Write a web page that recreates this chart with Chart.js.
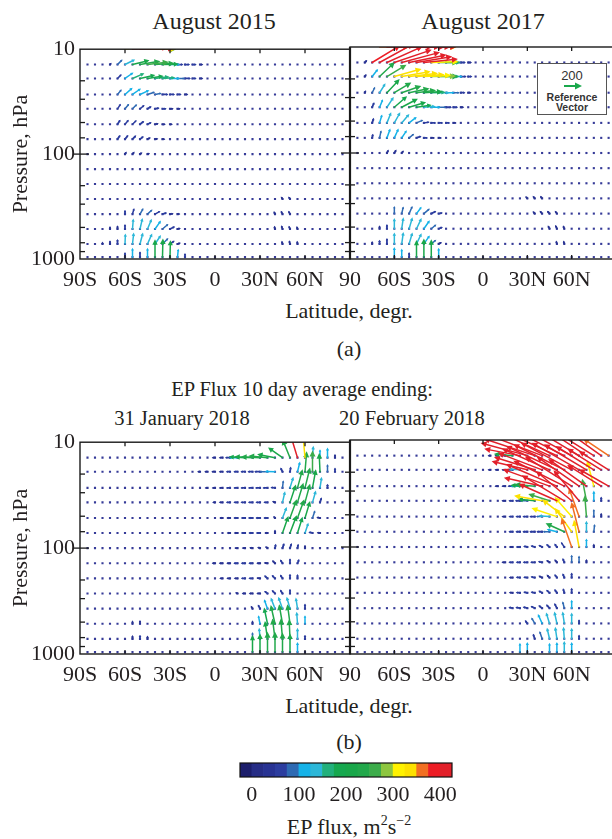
<!DOCTYPE html>
<html>
<head>
<meta charset="utf-8">
<script src="https://cdn.jsdelivr.net/npm/chart.js@4.4.1/dist/chart.umd.min.js"></script>
<style>
body { margin: 0; width: 612px; height: 839px; overflow: hidden; background: #fff; position: relative;
  font-family: "Liberation Serif", "Times New Roman", serif; color: #231f20; }
canvas { position: absolute; }
.t { position: absolute; white-space: nowrap; transform: translate(-50%, -50%); font-size: 22px; line-height: 1; }
.ref { position: absolute; left: 537px; top: 63px; width: 68px; height: 50px; border: 1.5px solid #555; background: #fff;
  font-family: "Liberation Sans", Arial, sans-serif; text-align: center; color: #333; }
.ref .n { position: absolute; left: 0; right: 0; top: 4px; font-size: 13px; }
.ref svg { position: absolute; left: 25px; top: 18px; }
.ref .r { position: absolute; left: 0; right: 0; top: 28px; font-size: 10.5px; font-weight: bold; line-height: 10px; }
</style>
</head>
<body>
<div class="t" style="left:214px;top:21px;font-size:24px">August 2015</div>
<div class="t" style="left:483px;top:21px;font-size:24px">August 2017</div>
<div class="t" style="left:349px;top:311px">Latitude, degr.</div>
<div class="t" style="left:349px;top:349px">(a)</div>
<div class="t" style="left:302px;top:389px;font-size:20.5px">EP Flux 10 day average ending:</div>
<div class="t" style="left:182px;top:418px;font-size:20.5px">31 January 2018</div>
<div class="t" style="left:412px;top:418px;font-size:20.5px">20 February 2018</div>
<div class="t" style="left:349px;top:706px">Latitude, degr.</div>
<div class="t" style="left:349px;top:742px">(b)</div>
<div class="t" style="left:349px;top:826px">EP flux, m<sup style="font-size:14px">2</sup>s<sup style="font-size:14px">−2</sup></div>

<canvas id="c1" width="372" height="268" style="left:0;top:31px"></canvas>
<canvas id="c2" width="290" height="268" style="left:330px;top:31px"></canvas>
<canvas id="c3" width="372" height="270" style="left:0;top:424px"></canvas>
<canvas id="c4" width="290" height="270" style="left:330px;top:424px"></canvas>
<canvas id="cb" width="252" height="54" style="left:220px;top:753px"></canvas>

<div class="ref">
  <div class="n">200</div>
  <svg width="20" height="8"><line x1="1" y1="4" x2="13" y2="4" stroke="#1aa84c" stroke-width="2"/><polygon points="19,4 12,0.5 12,7.5" fill="#1aa84c"/></svg>
  <div class="r">Reference<br>Vector</div>
</div>

<script>
// grid of the EP flux field
const LATS = [-85, -80, -75, -70, -65, -60, -55, -50, -45, -40, -35, -30, -25, -20, -15, -10, -5, 0,
  5, 10, 15, 20, 25, 30, 35, 40, 45, 50, 55, 60, 65, 70, 75, 80, 85];
const LEVELS = [14, 19, 27, 37, 52, 72, 100, 139, 193, 268, 373, 518, 720, 960];

const X_TICKS = [-90, -60, -30, 0, 30, 60, 90];
const X_LABELS = ["90S", "60S", "30S", "0", "30N", "60N", "90"];
const Y_TICKS = [10, 100, 1000];
const P_MARKS = [20, 30, 50, 70, 100, 200, 300, 500, 700, 850];
const LAT_MARKS = [-60, -30, 0, 30, 60];

// colour scale (lower edge of each box, m2/s2)
const CB_LOW = [-25, 0, 25, 50, 75, 100, 125, 150, 175, 200, 225, 250, 275, 300, 325, 350, 375, 400];
const CB_COLORS = ["#1c1e6b", "#262d86", "#283393", "#2c3d9f", "#2e6ab3", "#15b2e8", "#2cb7d8", "#22b07c",
  "#16a84f", "#19a74a", "#22a84b", "#3cac4a", "#8dc63f", "#fff200", "#fde100", "#f26f22", "#ed1c24", "#e2202a"];
const CB_TICKS = [0, 100, 200, 300, 400];

// vectors: [lat, pressure, horizontal, vertical]
const aug2015 = [
  [-60,10,300,40],[-55,10,420,20],[-50,10,400,10],[-45,10,330,0],[-40,10,250,0],
  [-70,14,20,20],[-65,14,60,60],[-60,14,120,60],[-55,14,200,50],[-50,14,240,40],[-45,14,250,30],[-40,14,230,15],
  [-35,14,190,5],[-30,14,120,0],[-25,14,70,0],[-20,14,60,0],[-15,14,50,0],[-10,14,40,0],
  [-65,19,50,50],[-60,19,100,70],[-55,19,140,60],[-50,19,180,40],[-45,19,190,30],[-40,19,170,20],[-35,19,150,10],
  [-30,19,120,0],[-25,19,90,0],[-20,19,70,0],[-15,19,50,0],[-10,19,40,0],
  [-65,27,50,60],[-60,27,90,80],[-55,27,100,70],[-50,27,110,50],[-45,27,90,30],[-40,27,80,15],[-35,27,70,0],
  [-30,27,60,0],[-25,27,50,0],[-20,27,40,0],
  [-65,37,40,60],[-60,37,50,60],[-55,37,55,55],[-50,37,55,45],[-45,37,50,30],[-40,37,55,10],[-35,37,50,0],
  [-30,37,45,0],[-25,37,40,0],
  [-65,52,35,55],[-60,52,45,55],[-55,52,50,50],[-50,52,50,40],[-45,52,50,25],[-40,52,45,10],[-35,52,40,0],[-30,52,35,0],
  [-65,72,35,50],[-60,72,40,50],[-55,72,45,45],[-50,72,45,35],[-45,72,40,20],[-40,72,40,5],[-35,72,35,0],
  [-60,100,20,30],[-55,100,25,30],[-50,100,30,20],[-45,100,30,10],
  [-60,373,0,50],[-55,373,20,70],[-50,373,40,70],[-45,373,60,55],[-40,373,65,35],[-35,373,55,15],[-30,373,45,5],[-25,373,35,0],
  [-70,518,0,35],[-65,518,0,45],[-60,518,0,60],[-55,518,10,125],[-50,518,30,130],[-45,518,50,120],[-40,518,70,100],
  [-35,518,70,60],[-30,518,60,30],[-25,518,40,10],
  [-75,720,0,30],[-70,720,0,45],[-65,720,0,60],[-60,720,5,125],[-55,720,15,135],[-50,720,35,135],[-45,720,55,125],
  [-40,720,70,105],[-35,720,70,70],[-30,720,55,40],[-25,720,40,15],
  [-60,960,0,60],[-55,960,0,110],[-50,960,0,70],[-45,960,0,110],[-40,960,0,210],[-35,960,5,220],[-30,960,5,200],
  [-25,960,10,100],[-20,960,0,50],
  [45,268,-20,30],[50,268,-20,30],[40,373,-15,35],[45,373,-20,40],[50,373,-20,40],
  [40,518,-10,40],[45,518,-15,45],[50,518,-15,40],[55,518,-10,35],[45,720,-10,40],[50,720,-10,45],[55,720,-5,40]
];

const aug2017 = [
  [-70,10,350,0],[-65,10,420,0],[-60,10,450,0],[-55,10,450,0],[-50,10,420,0],[-45,10,400,0],[-40,10,380,0],
  [-35,10,300,0],[-30,10,200,0],
  [-80,14,30,30],[-75,14,330,200],[-70,14,400,220],[-65,14,420,190],[-60,14,440,150],[-55,14,450,120],[-50,14,440,90],
  [-45,14,420,70],[-40,14,400,40],[-35,14,320,10],[-30,14,230,0],[-25,14,170,0],[-20,14,90,0],[-15,14,60,0],[-10,14,45,0],
  [-80,19,20,30],[-75,19,70,90],[-70,19,180,170],[-65,19,230,140],[-60,19,320,90],[-55,19,340,60],[-50,19,340,40],
  [-45,19,330,25],[-40,19,320,15],[-35,19,290,5],[-30,19,230,0],[-25,19,160,0],[-20,19,110,0],[-15,19,70,0],[-10,19,50,0],
  [-80,27,15,30],[-75,27,35,70],[-70,27,70,110],[-65,27,150,160],[-60,27,200,120],[-55,27,230,80],[-50,27,240,50],
  [-45,27,230,30],[-40,27,220,15],[-35,27,170,5],[-30,27,130,0],[-25,27,100,0],[-20,27,75,0],[-15,27,55,0],[-10,27,40,0],
  [-75,37,25,60],[-70,37,40,95],[-65,37,80,120],[-60,37,150,130],[-55,37,190,100],[-50,37,200,60],[-45,37,180,25],
  [-40,37,140,10],[-35,37,110,0],[-30,37,90,0],[-25,37,70,0],[-20,37,55,0],[-15,37,40,0],
  [-75,52,20,60],[-70,52,30,100],[-65,52,50,125],[-60,52,70,125],[-55,52,90,105],[-50,52,90,70],[-45,52,80,35],
  [-40,52,70,10],[-35,52,60,0],[-30,52,55,0],[-25,52,50,0],[-20,52,40,0],
  [-75,72,10,50],[-70,72,20,90],[-65,72,40,110],[-60,72,50,110],[-55,72,60,90],[-50,72,60,50],[-45,72,60,20],
  [-40,72,50,0],[-35,72,45,0],[-30,72,40,0],
  [-65,100,20,40],[-60,100,25,40],[-55,100,25,30],
  [-60,373,0,90],[-55,373,20,85],[-50,373,40,90],[-45,373,60,80],[-40,373,70,60],[-35,373,60,30],[-30,373,50,10],
  [-70,518,0,40],[-65,518,0,55],[-60,518,0,125],[-55,518,20,135],[-50,518,40,135],[-45,518,60,125],[-40,518,70,100],
  [-35,518,60,50],[-30,518,50,20],
  [-75,720,0,35],[-70,720,0,50],[-65,720,0,70],[-60,720,0,135],[-55,720,20,140],[-50,720,40,135],[-45,720,60,125],
  [-40,720,70,100],[-35,720,60,50],[-30,720,40,20],
  [-60,960,0,120],[-55,960,0,100],[-50,960,0,60],[-45,960,0,200],[-40,960,0,220],[-35,960,0,210],[-30,960,0,110],
  [30,268,-25,25],[35,268,-25,30],[40,268,-25,30],[35,373,-25,30],[40,373,-30,35],[45,373,-30,35],[50,373,-25,35],
  [45,518,-20,40],[50,518,-20,45],[55,518,-15,40],[50,720,-10,40],[55,720,-10,40]
];

const jan2018 = [
  [0,14,-40,0],[5,14,-45,0],[10,14,-60,0],[15,14,-100,0],[20,14,-190,10],[25,14,-215,10],[30,14,-225,10],
  [35,14,-225,20],[40,14,-210,40],[45,14,-170,120],[50,14,-90,220],[55,14,-120,390],[60,14,-30,340],[65,14,10,140],
  [70,14,0,100],[75,14,0,120],[80,14,0,45],
  [-10,19,-35,0],[-5,19,-40,0],[0,19,-45,0],[5,19,-45,0],[10,19,-50,0],[15,19,-50,0],[20,19,-55,0],[25,19,-60,0],
  [30,19,-70,0],[35,19,-95,0],[40,19,-120,5],[45,19,-25,50],[50,19,10,60],[55,19,30,120],[60,19,20,240],
  [65,19,0,250],[70,19,-10,220],[75,19,0,90],[80,19,0,50],
  [-5,27,-35,0],[0,27,-40,0],[5,27,-45,0],[10,27,-50,0],[15,27,-50,0],[20,27,-55,0],[25,27,-55,0],[30,27,-60,0],
  [35,27,-60,0],[40,27,-55,5],[45,27,10,90],[50,27,40,130],[55,27,60,220],[60,27,60,240],[65,27,40,220],
  [70,27,20,130],[75,27,0,50],
  [0,37,-35,0],[5,37,-45,0],[10,37,-50,0],[15,37,-50,0],[20,37,-55,0],[25,37,-55,0],[30,37,-55,0],[35,37,-50,0],
  [40,37,-35,15],[45,37,30,130],[50,37,70,210],[55,37,70,230],[60,37,60,220],[65,37,40,140],[70,37,20,60],
  [5,52,-40,0],[10,52,-45,0],[15,52,-50,0],[20,52,-50,0],[25,52,-55,0],[30,52,-55,0],[35,52,-50,0],[40,52,-20,25],
  [45,52,50,130],[50,52,80,220],[55,52,80,220],[60,52,60,200],[65,52,30,90],[70,52,-45,10],
  [10,72,-40,0],[15,72,-45,0],[20,72,-50,0],[25,72,-50,0],[30,72,-50,0],[35,72,-40,0],[40,72,0,40],[45,72,70,200],
  [50,72,80,210],[55,72,60,190],[60,72,40,120],[65,72,-50,10],[70,72,-40,5],
  [15,100,-40,0],[20,100,-40,0],[25,100,-40,5],[30,100,-35,10],[35,100,-30,20],[40,100,10,50],[45,100,20,60],
  [50,100,20,60],[55,100,10,50],[60,100,0,40],
  [0,139,-40,0],[5,139,-45,0],[10,139,-45,0],[15,139,-50,0],[20,139,-50,0],[25,139,-50,0],[30,139,-45,0],
  [35,139,-45,5],[40,139,-35,35],[45,139,-30,45],[50,139,0,60],[55,139,20,50],
  [5,193,-40,0],[10,193,-45,0],[15,193,-45,0],[20,193,-50,0],[25,193,-50,0],[30,193,-45,5],[35,193,-40,35],
  [40,193,-40,40],[45,193,-30,45],[50,193,0,55],[55,193,0,50],
  [15,268,-30,10],[20,268,-40,0],[25,268,-45,0],[30,268,-45,0],[35,268,-40,30],[40,268,-40,40],[45,268,-30,45],[50,268,0,55],
  [25,373,-20,35],[30,373,-25,50],[35,373,-40,110],[40,373,-50,130],[45,373,-50,140],[50,373,-40,140],[55,373,-20,130],[60,373,0,60],
  [25,518,0,40],[30,518,-20,100],[35,518,-40,190],[40,518,-50,220],[45,518,-40,230],[50,518,-30,230],[55,518,-10,140],[60,518,0,100],
  [25,720,0,80],[30,720,-10,130],[35,720,-30,210],[40,720,-30,240],[45,720,-20,240],[50,720,-10,230],[55,720,0,130],[60,720,0,50],
  [25,960,0,200],[30,960,0,220],[35,960,0,240],[40,960,0,240],[45,960,0,230],[50,960,0,220],[55,960,0,120],
  [-55,518,0,40],[-50,518,0,45],[-55,720,0,45],[-50,720,0,50],[-45,720,0,40]
];

const feb2018 = [
  [5,14,-35,0],[10,14,-40,0],[15,14,-60,0],[20,14,-220,20],[25,14,-420,80],[30,14,-550,150],[35,14,-600,200],
  [40,14,-650,250],[45,14,-650,300],[50,14,-650,300],[55,14,-600,300],[60,14,-550,300],[65,14,-500,300],
  [70,14,-450,300],[75,14,-400,250],[80,14,-350,250],[85,14,-300,200],
  [5,19,-35,0],[10,19,-40,0],[15,19,-45,0],[20,19,-70,0],[25,19,-130,10],[30,19,-420,100],[35,19,-480,150],
  [40,19,-520,200],[45,19,-560,250],[50,19,-600,280],[55,19,-600,300],[60,19,-600,320],[65,19,-560,320],
  [70,19,-500,300],[75,19,-450,280],[80,19,-400,250],[85,19,-350,220],
  [10,27,-40,0],[15,27,-45,0],[20,27,-60,0],[25,27,-110,0],[30,27,-200,10],[35,27,-240,20],[40,27,-450,100],
  [45,27,-550,200],[50,27,-600,260],[55,27,-600,300],[60,27,-550,350],[65,27,-500,350],[70,27,-450,320],
  [75,27,-80,300],[80,27,-400,250],[85,27,-350,200],
  [15,37,-45,0],[20,37,-50,0],[25,37,-60,0],[30,37,-90,0],[35,37,-200,20],[40,37,-330,60],[45,37,-250,80],
  [50,37,-450,200],[55,37,-500,300],[60,37,-420,350],[65,37,-300,360],[70,37,-50,260],[75,37,0,120],[80,37,0,50],
  [15,52,-45,0],[20,52,-50,0],[25,52,-55,0],[30,52,-60,0],[35,52,-65,0],[40,52,-75,0],[45,52,-130,10],
  [50,52,-300,100],[55,52,-260,200],[60,52,-200,230],[65,52,-120,340],[70,52,-20,250],[75,52,0,90],[80,52,0,45],
  [20,72,-50,0],[25,72,-55,0],[30,72,-60,0],[35,72,-65,0],[40,72,-70,0],[45,72,-80,0],[50,72,-120,30],
  [55,72,-220,100],[60,72,-200,280],[65,72,-90,350],[70,72,0,130],[75,72,10,90],
  [20,100,-45,0],[25,100,-50,0],[30,100,-50,10],[35,100,-50,15],[40,100,-45,25],[45,100,-40,35],[50,100,-30,40],
  [55,100,-40,60],[60,100,-120,340],[65,100,-60,320],[70,100,0,100],[75,100,0,40],
  [15,139,-45,0],[20,139,-50,0],[25,139,-50,0],[30,139,-55,0],[35,139,-55,0],[40,139,-50,10],[45,139,-40,25],
  [50,139,-30,35],[55,139,-20,50],[60,139,0,90],[65,139,0,80],[70,139,0,40],
  [20,193,-45,0],[25,193,-50,5],[30,193,-50,5],[35,193,-50,10],[40,193,-45,20],[45,193,-35,35],[50,193,-30,40],
  [55,193,-20,50],[60,193,0,60],
  [20,268,-45,5],[25,268,-50,5],[30,268,-50,10],[35,268,-50,10],[40,268,-45,25],[45,268,-40,35],[50,268,-30,45],
  [55,268,-15,55],[60,268,0,60],
  [20,373,-50,10],[25,373,-55,10],[30,373,-55,15],[35,373,-50,25],[40,373,-45,35],[45,373,-40,45],[50,373,-30,60],
  [55,373,-20,80],[60,373,0,100],
  [30,518,-30,40],[35,518,-40,70],[40,518,-50,110],[45,518,-40,130],[50,518,-30,140],[55,518,-20,140],[60,518,0,130],[65,518,0,50],
  [35,720,-20,60],[40,720,-30,90],[45,720,-30,130],[50,720,-20,140],[55,720,-10,140],[60,720,0,130],[65,720,0,50],
  [25,960,0,110],[30,960,0,120],[45,960,0,110],[50,960,0,120],[55,960,0,130],[60,960,0,120]
];

const SERIF = '"Liberation Serif", "Times New Roman", serif';
const INK = "#231f20";
const DOT = "#363b98";
const LEN = 0.085; // pixels per m2/s2

function colorFor(m) {
  let c = CB_COLORS[0];
  CB_LOW.forEach((lo, i) => { if (m >= lo) c = CB_COLORS[i]; });
  return c;
}

function drawArrow(ctx, x0, y0, u, v, color) {
  const dx = u * LEN, dy = -v * LEN;
  const len = Math.hypot(dx, dy);
  if (len < 0.5) return;
  const ux = dx / len, uy = dy / len;
  const x1 = x0 + dx, y1 = y0 + dy;
  const h = Math.min(6, Math.max(2.4, len * 0.3));
  const w = h * 0.5;
  ctx.strokeStyle = color;
  ctx.fillStyle = color;
  ctx.lineCap = "round";
  ctx.lineWidth = len < 6 ? 1.8 : 1.5;
  ctx.beginPath();
  ctx.moveTo(x0, y0);
  ctx.lineTo(x1 - ux * h * 0.7, y1 - uy * h * 0.7);
  ctx.stroke();
  ctx.beginPath();
  ctx.moveTo(x1, y1);
  ctx.lineTo(x1 - ux * h - uy * w, y1 - uy * h + ux * w);
  ctx.lineTo(x1 - ux * h + uy * w, y1 - uy * h - ux * w);
  ctx.closePath();
  ctx.fill();
}

// draws the flux vectors at the positions chart.js gave the points
const quiver = {
  id: "quiver",
  afterDatasetsDraw(chart) {
    const ds = chart.data.datasets[1];
    const meta = chart.getDatasetMeta(1);
    const { ctx, chartArea: a } = chart;
    ctx.save();
    ctx.beginPath();
    ctx.rect(a.left, a.top, a.right - a.left, a.bottom - a.top);
    ctx.clip();
    const order = ds.data.map((d, i) => i).sort((i, j) => ds.data[i].m - ds.data[j].m);
    for (const i of order) {
      const pt = meta.data[i], d = ds.data[i];
      drawArrow(ctx, pt.x, pt.y, d.u, d.v, colorFor(d.m));
    }
    ctx.restore();
  }
};

// box round the panel with tick marks
const frame = {
  id: "frame",
  afterDraw(chart, args, o) {
    const { ctx, chartArea: a, scales: { x, y } } = chart;
    ctx.save();
    ctx.strokeStyle = "#1a1a1a";
    ctx.lineWidth = 1.4;
    ctx.strokeRect(a.left, a.top, a.right - a.left, a.bottom - a.top);
    if (o.divider) {
      ctx.lineWidth = 2.2;
      ctx.beginPath(); ctx.moveTo(a.left, a.top); ctx.lineTo(a.left, a.bottom); ctx.stroke();
    }
    ctx.lineWidth = 1.3;
    P_MARKS.forEach(p => {
      const py = y.getPixelForValue(p);
      const big = p === 100;
      const out = o.divider ? (big ? 9 : 5) : (big ? 6 : 0);
      const inn = big ? 9 : 5;
      ctx.beginPath(); ctx.moveTo(a.left - out, py); ctx.lineTo(a.left + inn, py); ctx.stroke();
    });
    LAT_MARKS.forEach(lat => {
      const px = x.getPixelForValue(lat);
      ctx.beginPath(); ctx.moveTo(px, a.top); ctx.lineTo(px, a.top + 4); ctx.stroke();
      ctx.beginPath(); ctx.moveTo(px, a.bottom); ctx.lineTo(px, a.bottom - 4); ctx.stroke();
    });
    ctx.restore();
  }
};

function fluxChart(id, vectors, left) {
  const grid = [];
  LEVELS.forEach(p => LATS.forEach(lat => grid.push({ x: lat, y: p })));
  const vec = vectors.map(([lat, p, u, v]) => ({ x: lat, y: p, u: u, v: v, m: Math.hypot(u, v) }));
  const xt = left ? X_TICKS : X_TICKS.slice(1, -1);
  const font = { family: SERIF, size: 22 };
  return new Chart(document.getElementById(id), {
    type: "scatter",
    data: {
      datasets: [
        { data: grid, pointStyle: "rect", pointRadius: 1.5, backgroundColor: DOT, borderWidth: 0 },
        { data: vec, pointRadius: 0 }
      ]
    },
    options: {
      responsive: false, animation: false, events: [], devicePixelRatio: 1,
      layout: { padding: left ? { top: 16, right: 22 } : { top: 16, left: 20 } },
      plugins: { legend: { display: false }, tooltip: { enabled: false }, frame: { divider: !left } },
      scales: {
        x: {
          type: "linear", min: -90, max: 90,
          afterFit: s => { s.height = 40; },
          afterBuildTicks: s => { s.ticks = xt.map(v => ({ value: v })); },
          ticks: { callback: v => X_LABELS[X_TICKS.indexOf(v)], autoSkip: false, maxRotation: 0, font: font, color: INK, padding: 8 },
          grid: { display: false, drawTicks: false },
          border: { display: false }
        },
        y: {
          type: "logarithmic", min: 10, max: 1000, reverse: true, display: left,
          afterFit: s => { s.width = left ? 80 : 0; },
          afterBuildTicks: s => { s.ticks = Y_TICKS.map(v => ({ value: v })); },
          ticks: { callback: v => String(v), font: font, color: INK, padding: 5 },
          grid: { display: false, drawTicks: false },
          border: { display: false },
          title: { display: true, text: "Pressure, hPa", font: font, color: INK, padding: { top: 8, bottom: 0 } }
        }
      }
    },
    plugins: [quiver, frame]
  });
}

fluxChart("c1", aug2015, true);
fluxChart("c2", aug2017, false);
fluxChart("c3", jan2018, true);
fluxChart("c4", feb2018, false);

// colour bar
const cbFrame = {
  id: "cbFrame",
  afterDraw(chart) {
    const { ctx, chartArea: a } = chart;
    ctx.save();
    ctx.strokeStyle = "#111";
    ctx.lineWidth = 1.2;
    ctx.strokeRect(a.left, a.top, a.right - a.left, a.bottom - a.top);
    ctx.restore();
  }
};

new Chart(document.getElementById("cb"), {
  type: "bar",
  data: {
    datasets: [{
      data: CB_LOW.map(lo => ({ x: lo + 12.5, y: 1 })),
      backgroundColor: CB_COLORS, barPercentage: 1, categoryPercentage: 1, borderWidth: 0
    }]
  },
  options: {
    responsive: false, animation: false, events: [], devicePixelRatio: 1,
    layout: { padding: { left: 20, right: 20, top: 10 } },
    plugins: { legend: { display: false }, tooltip: { enabled: false } },
    scales: {
      x: {
        type: "linear", min: -25, max: 425, offset: false,
        afterFit: s => { s.height = 30; },
        afterBuildTicks: s => { s.ticks = CB_TICKS.map(v => ({ value: v })); },
        ticks: { font: { family: SERIF, size: 22 }, color: INK, padding: 5, autoSkip: false, maxRotation: 0 },
        grid: { display: false, drawTicks: false },
        border: { display: false }
      },
      y: { display: false, min: 0, max: 1 }
    }
  },
  plugins: [cbFrame]
});
</script>
</body>
</html>
